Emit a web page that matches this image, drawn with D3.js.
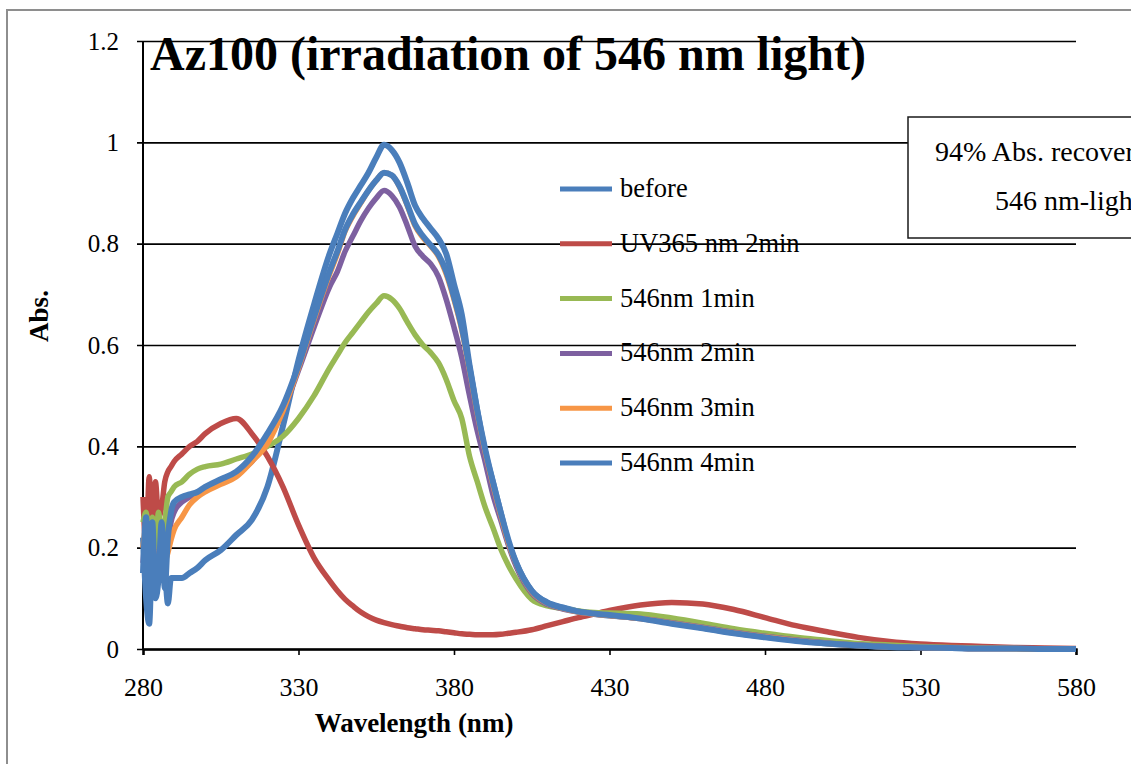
<!DOCTYPE html>
<html>
<head>
<meta charset="utf-8">
<script src="https://cdn.jsdelivr.net/npm/d3@7"></script>
<style>
  body { margin: 0; background: #fff; }
  text { font-family: "Liberation Serif", "Times New Roman", serif; }
</style>
</head>
<body>
<svg id="chart"></svg>
<script>
// wavelength grid (nm) shared by all series
const wavelengths = [280, 281, 282, 283, 284, 285, 286, 287, 288, 289, 290, 292.5, 295, 297.5, 300,
  305, 310, 315, 320, 325, 330, 335, 340, 342.5, 345, 347.5, 350, 352.5, 355, 357.5, 360, 362.5,
  365, 367.5, 370, 372.5, 375, 377.5, 380, 382.5, 385, 387.5, 390, 392.5, 395, 397.5, 400,
  405, 410, 415, 420, 425, 430, 440, 450, 460, 470, 480, 490, 500, 510, 520, 530, 540, 550, 560, 570, 580];

const before = [0.22, 0.10, 0.05, 0.20, 0.12, 0.17, 0.14, 0.15, 0.09, 0.14, 0.14, 0.14, 0.15, 0.16, 0.175,
  0.195, 0.225, 0.255, 0.32, 0.44, 0.57, 0.68, 0.78, 0.82, 0.86, 0.89, 0.915, 0.94, 0.97, 0.995, 0.985, 0.96,
  0.92, 0.875, 0.85, 0.83, 0.81, 0.78, 0.72, 0.66, 0.56, 0.47, 0.39, 0.33, 0.27, 0.21, 0.17,
  0.115, 0.092, 0.082, 0.074, 0.069, 0.066, 0.061, 0.052, 0.042, 0.032, 0.024, 0.017, 0.011, 0.007, 0.004, 0.003, 0.002, 0.001, 0.001, 0, 0];

const uv365 = [0.30, 0.20, 0.34, 0.22, 0.33, 0.26, 0.28, 0.33, 0.35, 0.36, 0.37, 0.385, 0.40, 0.41, 0.425,
  0.445, 0.455, 0.425, 0.38, 0.32, 0.245, 0.18, 0.135, 0.115, 0.098, 0.085, 0.073, 0.064, 0.057, 0.052, 0.048, 0.045,
  0.042, 0.04, 0.038, 0.037, 0.036, 0.034, 0.032, 0.03, 0.029, 0.028, 0.028, 0.028, 0.029, 0.031, 0.033,
  0.038, 0.046, 0.054, 0.062, 0.069, 0.076, 0.087, 0.092, 0.089, 0.078, 0.062, 0.046, 0.034, 0.023, 0.015, 0.01, 0.007, 0.005, 0.003, 0.002, 0.001];

const min1 = [0.25, 0.27, 0.22, 0.26, 0.20, 0.27, 0.22, 0.25, 0.30, 0.31, 0.32, 0.33, 0.345, 0.355, 0.36,
  0.365, 0.375, 0.385, 0.40, 0.42, 0.455, 0.50, 0.555, 0.58, 0.605, 0.625, 0.645, 0.665, 0.682, 0.697, 0.69, 0.672,
  0.645, 0.62, 0.60, 0.585, 0.565, 0.532, 0.49, 0.455, 0.38, 0.33, 0.28, 0.24, 0.198, 0.165, 0.138,
  0.098, 0.085, 0.08, 0.075, 0.072, 0.071, 0.069, 0.061, 0.051, 0.04, 0.031, 0.023, 0.017, 0.011, 0.008, 0.005, 0.003, 0.002, 0.001, 0, 0];

const min2 = [0.17, 0.22, 0.12, 0.20, 0.18, 0.14, 0.18, 0.22, 0.20, 0.25, 0.27, 0.29, 0.30, 0.31, 0.315,
  0.33, 0.345, 0.37, 0.41, 0.47, 0.55, 0.635, 0.715, 0.745, 0.785, 0.815, 0.845, 0.87, 0.89, 0.905, 0.895, 0.872,
  0.835, 0.795, 0.775, 0.76, 0.735, 0.69, 0.635, 0.575, 0.5, 0.43, 0.37, 0.305, 0.255, 0.205, 0.163,
  0.11, 0.088, 0.079, 0.073, 0.069, 0.066, 0.06, 0.052, 0.043, 0.033, 0.025, 0.018, 0.012, 0.008, 0.005, 0.003, 0.002, 0.001, 0.001, 0, 0];

const min3 = [0.20, 0.24, 0.17, 0.22, 0.16, 0.16, 0.16, 0.17, 0.19, 0.215, 0.235, 0.26, 0.285, 0.30, 0.31,
  0.325, 0.34, 0.37, 0.405, 0.47, 0.555, 0.65, 0.74, 0.78, 0.825, 0.855, 0.88, 0.905, 0.925, 0.94, 0.935, 0.912,
  0.875, 0.835, 0.812, 0.795, 0.775, 0.74, 0.69, 0.63, 0.55, 0.465, 0.39, 0.325, 0.265, 0.21, 0.168,
  0.113, 0.09, 0.08, 0.073, 0.069, 0.066, 0.06, 0.051, 0.042, 0.032, 0.024, 0.017, 0.011, 0.007, 0.004, 0.003, 0.002, 0.001, 0.001, 0, 0];

const min4 = [0.15, 0.26, 0.08, 0.25, 0.10, 0.14, 0.25, 0.12, 0.22, 0.27, 0.29, 0.30, 0.305, 0.31, 0.32,
  0.335, 0.35, 0.38, 0.425, 0.48, 0.56, 0.655, 0.745, 0.785, 0.828, 0.858, 0.882, 0.905, 0.925, 0.94, 0.935, 0.913,
  0.877, 0.838, 0.815, 0.797, 0.778, 0.745, 0.695, 0.635, 0.555, 0.47, 0.395, 0.33, 0.27, 0.215, 0.17,
  0.115, 0.091, 0.081, 0.074, 0.07, 0.067, 0.06, 0.05, 0.041, 0.031, 0.023, 0.016, 0.011, 0.007, 0.004, 0.003, 0.002, 0.001, 0.001, 0, 0];

const seriesNames = ["before", "UV365 nm 2min", "546nm 1min", "546nm 2min", "546nm 3min", "546nm 4min"];
const seriesColors = ["#4a7ebb", "#be4b48", "#98b954", "#7d60a0", "#f79646", "#4a7ebb"];
const seriesValues = [before, uv365, min1, min2, min3, min4];

const xTicks = [280, 330, 380, 430, 480, 530, 580];
const yTicks = [0, 0.2, 0.4, 0.6, 0.8, 1, 1.2];

const titleText = "Az100 (irradiation of 546 nm light)";
const noteLines = ["94% Abs. recovery by", "546 nm-light"];

function createChart(svgSelector) {
  const W = 1131, H = 764;
  const margin = { top: 41, left: 143, right: 55, bottom: 115 };
  const width = W - margin.left - margin.right;   // 933
  const height = H - margin.top - margin.bottom;  // 608

  const svg = d3.select(svgSelector).attr("width", W).attr("height", H);

  // outer chart-area border (runs off the right/bottom edge)
  svg.append("rect")
    .attr("x", 7).attr("y", 10)
    .attr("width", W + 20).attr("height", H + 20)
    .attr("fill", "#fff")
    .attr("stroke", "#8e8e8e")
    .attr("stroke-width", 2);

  const g = svg.append("g").attr("transform", `translate(${margin.left},${margin.top})`);

  const xscale = d3.scaleLinear().domain([280, 580]).range([0, width]);
  const yscale = d3.scaleLinear().domain([0, 1.2]).range([height, 0]);

  // gridlines + y ticks
  const yaxis = d3.axisLeft(yscale).tickValues(yTicks).tickSize(-width).tickPadding(24)
    .tickFormat((d) => d3.format("~g")(d));
  const g_yaxis = g.append("g").attr("class", "y axis").call(yaxis);
  g_yaxis.select(".domain").remove();
  g_yaxis.selectAll(".tick line")
    .attr("x1", -6)
    .attr("stroke", "#000")
    .attr("stroke-width", 1.6);
  g_yaxis.selectAll(".tick text")
    .attr("font-size", 25)
    .attr("font-family", "Liberation Serif")
    .attr("fill", "#000");

  // y axis line
  g.append("line")
    .attr("x1", 0).attr("x2", 0).attr("y1", 0).attr("y2", height)
    .attr("stroke", "#000").attr("stroke-width", 2);

  const xaxis = d3.axisBottom(xscale).tickValues(xTicks).tickSize(6).tickPadding(23);
  const g_xaxis = g.append("g").attr("class", "x axis")
    .attr("transform", `translate(0,${height})`).call(xaxis);
  g_xaxis.select(".domain").attr("stroke", "#000").attr("stroke-width", 2.4);
  g_xaxis.selectAll(".tick line").attr("stroke", "#000").attr("stroke-width", 1.6);
  g_xaxis.selectAll(".tick text")
    .attr("font-size", 26)
    .attr("font-family", "Liberation Serif")
    .attr("fill", "#000");

  // series lines, drawn in legend order so the last one sits on top
  const line = d3.line()
    .x((d) => xscale(d[0]))
    .y((d) => yscale(d[1]))
    .curve(d3.curveMonotoneX);

  const seriesData = seriesValues.map((vals, i) => ({
    name: seriesNames[i],
    color: seriesColors[i],
    points: wavelengths.map((w, j) => [w, vals[j]]),
  }));

  g.selectAll("path.series")
    .data(seriesData)
    .join("path")
    .attr("class", "series")
    .attr("d", (d) => line(d.points))
    .attr("fill", "none")
    .attr("stroke", (d) => d.color)
    .attr("stroke-width", (d, i) => (i === 0 || i === 5 ? 6 : 5.5))
    .attr("stroke-linejoin", "round");

  // legend
  const legend = svg.append("g").attr("transform", "translate(560,189)");
  const item = legend.selectAll("g")
    .data(seriesData)
    .join("g")
    .attr("transform", (d, i) => `translate(0,${i * 54.8})`);
  item.append("line")
    .attr("x1", 0).attr("x2", 52)
    .attr("stroke", (d) => d.color)
    .attr("stroke-width", 5);
  item.append("text")
    .attr("x", 60).attr("y", 8)
    .attr("font-size", 26.5)
    .attr("fill", "#000")
    .text((d) => d.name);

  // annotation box (runs off the right edge like the original)
  svg.append("rect")
    .attr("x", 908).attr("y", 117)
    .attr("width", 300).attr("height", 121)
    .attr("fill", "#fff")
    .attr("stroke", "#1a1a1a")
    .attr("stroke-width", 1.5);
  svg.append("text")
    .attr("x", 935).attr("y", 161)
    .attr("font-size", 28)
    .text(noteLines[0]);
  svg.append("text")
    .attr("x", 995).attr("y", 210)
    .attr("font-size", 28)
    .text(noteLines[1]);

  // title
  svg.append("text")
    .attr("x", 150).attr("y", 70)
    .attr("font-size", 48)
    .attr("font-weight", "bold")
    .text(titleText);

  // axis titles
  svg.append("text")
    .attr("x", 414).attr("y", 732)
    .attr("text-anchor", "middle")
    .attr("font-size", 27)
    .attr("font-weight", "bold")
    .text("Wavelength (nm)");

  svg.append("text")
    .attr("transform", "translate(48,316) rotate(-90)")
    .attr("text-anchor", "middle")
    .attr("font-size", 27)
    .attr("font-weight", "bold")
    .text("Abs.");
}

createChart("#chart");
</script>
</body>
</html>
